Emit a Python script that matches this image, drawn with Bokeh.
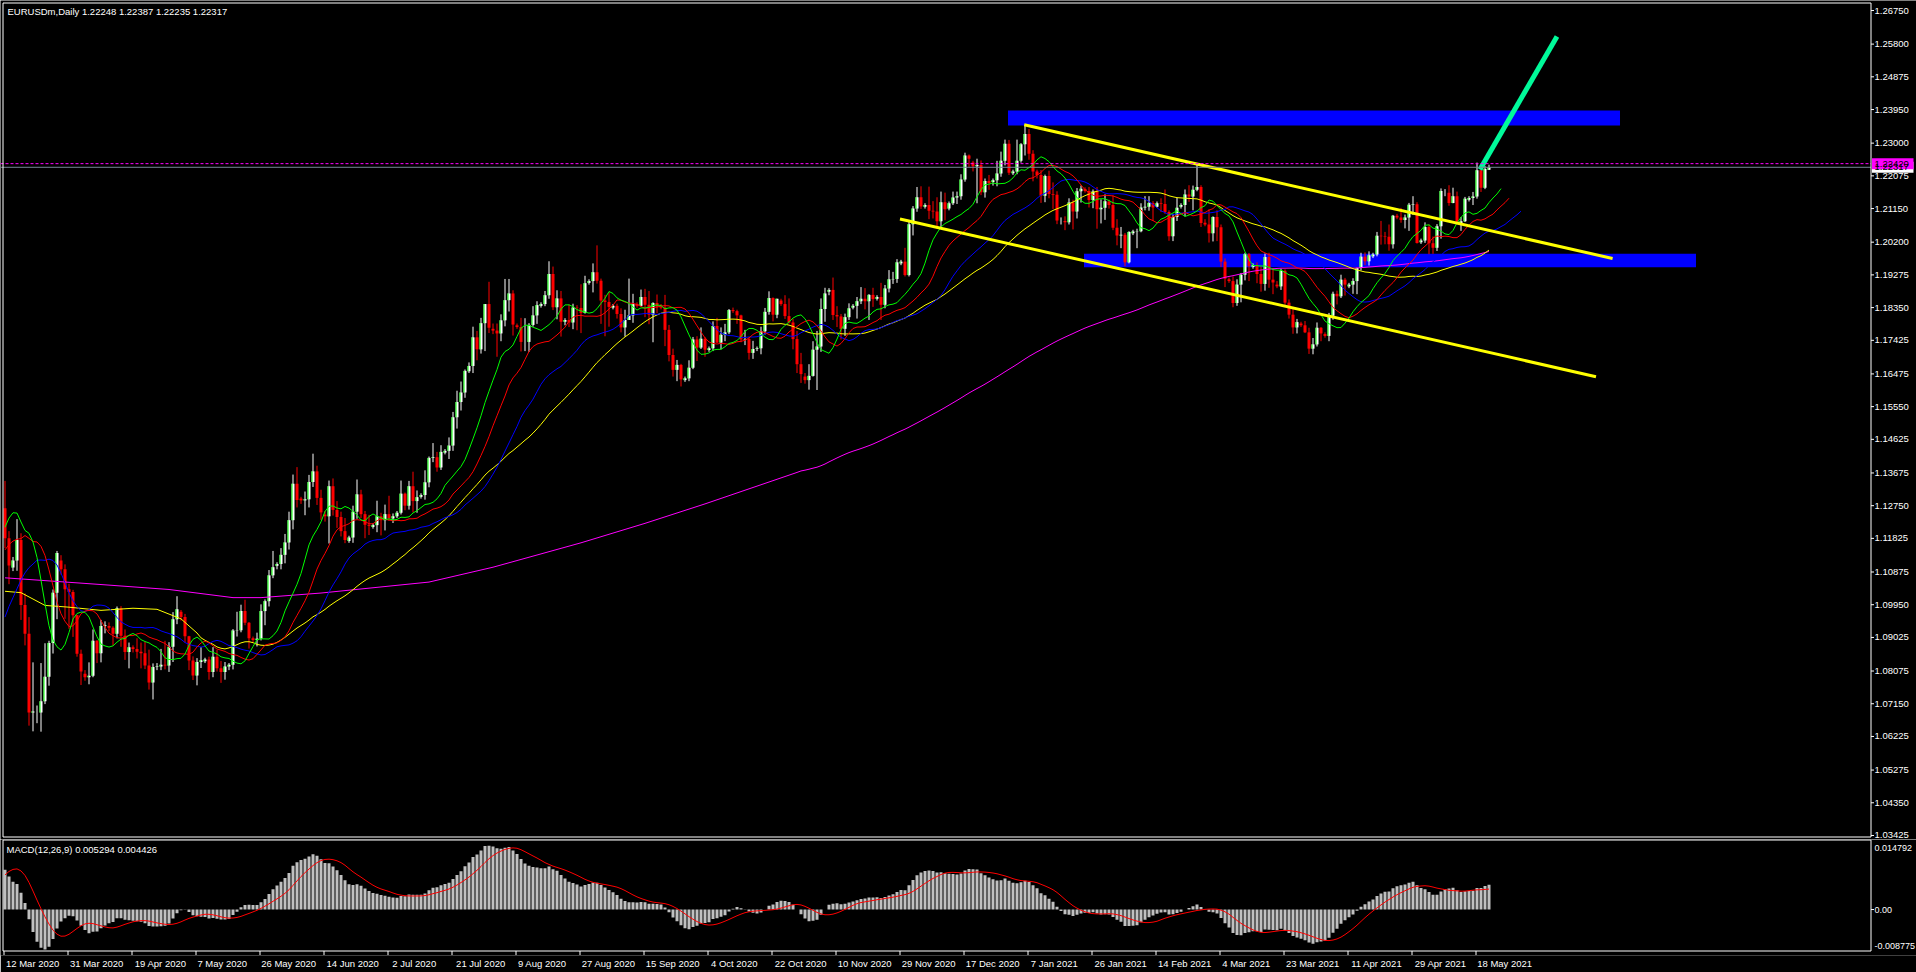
import numpy as np
from bokeh.plotting import figure
from bokeh.models import Range1d, FixedTicker
from bokeh.layouts import column
from bokeh.embed import file_html
from bokeh.resources import INLINE
from bokeh.core.properties import value

# ---------------- daily bars (with Sunday bars), 12 Mar 2020 .. 21 May 2021 ----------------
opens = [
 1.1268,1.1183,
 1.1100,1.1120,1.1178,1.0994,1.0913,1.0690,
 1.0690,1.0690,1.0722,1.0791,1.0887,1.1029,
 1.1120,1.1095,1.1039,1.1031,1.0965,1.0856,
 1.0800,1.0790,1.0794,1.0893,1.0858,1.0935,
 1.0935,1.0930,1.0913,1.0985,1.0907,1.0861,
 1.0875,1.0870,1.0862,1.0858,1.0823,1.0775,
 1.0819,1.0820,1.0825,1.0823,1.0876,1.0954,
 1.0975,1.0960,1.0906,1.0837,1.0795,1.0833,
 1.0835,1.0840,1.0805,1.0848,1.0815,1.0805,
 1.0820,1.0825,1.0922,1.0923,1.0977,1.0944,
 1.0900,1.0895,1.0899,1.0977,1.1005,1.1078,
 1.1105,1.1110,1.1136,1.1171,1.1234,1.1337,
 1.1295,1.1290,1.1293,1.1342,1.1372,1.1297,
 1.1250,1.1245,1.1330,1.1263,1.1243,1.1203,
 1.1175,1.1185,1.1258,1.1307,1.1251,1.1221,
 1.1215,1.1220,1.1245,1.1234,1.1251,1.1239,
 1.1245,1.1255,1.1309,1.1275,1.1330,1.1288,
 1.1300,1.1305,1.1341,1.1410,1.1412,1.1383,
 1.1425,1.1430,1.1445,1.1525,1.1568,1.1595,
 1.1655,1.1670,1.1751,1.1717,1.1791,1.1845,
 1.1775,1.1770,1.1762,1.1799,1.1856,1.1875,
 1.1785,1.1780,1.1738,1.1738,1.1786,1.1813,
 1.1840,1.1845,1.1870,1.1930,1.1836,1.1861,
 1.1795,1.1800,1.1793,1.1835,1.1834,1.1820,
 1.1905,1.1910,1.1935,1.1911,1.1855,1.1851,
 1.1835,1.1840,1.1817,1.1779,1.1800,1.1813,
 1.1845,1.1840,1.1865,1.1843,1.1815,1.1848,
 1.1838,1.1835,1.1772,1.1701,1.1659,1.1673,
 1.1630,1.1635,1.1665,1.1745,1.1722,1.1747,
 1.1715,1.1720,1.1783,1.1736,1.1758,1.1765,
 1.1828,1.1825,1.1813,1.1745,1.1746,1.1707,
 1.1718,1.1720,1.1768,1.1823,1.1862,1.1815,
 1.1855,1.1845,1.1811,1.1793,1.1746,1.1675,
 1.1640,1.1630,1.1642,1.1716,1.1725,1.1831,
 1.1880,1.1885,1.1814,1.1810,1.1775,1.1808,
 1.1835,1.1840,1.1853,1.1860,1.1853,1.1871,
 1.1860,1.1865,1.1843,1.1889,1.1915,1.1916,
 1.1960,1.1965,1.1927,1.2071,1.2115,1.2147,
 1.2120,1.2125,1.2109,1.2107,1.2079,1.2133,
 1.2115,1.2130,1.2146,1.2150,1.2197,1.2265,
 1.2245,1.2235,1.2238,1.2161,1.2193,
 1.2190,1.2195,1.2214,1.2250,1.2298,
 1.2215,1.2220,1.2250,1.2297,1.2326,1.2270,
 1.2220,1.2210,1.2151,1.2207,1.2156,1.2154,
 1.2080,1.2080,1.2076,1.2132,1.2107,1.2164,
 1.2170,1.2165,1.2139,1.2163,1.2113,1.2117,
 1.2135,1.2125,1.2061,1.2039,1.2041,1.1963,
 1.2045,1.2050,1.2051,1.2118,1.2120,1.2131,
 1.2120,1.2130,1.2128,1.2105,1.2037,1.2091,
 1.2120,1.2125,1.2155,1.2149,1.2168,1.2176,
 1.2075,1.2070,1.2045,1.2091,1.2062,1.1965,
 1.1915,1.1910,1.1848,1.1900,1.1928,1.1986,
 1.1950,1.1955,1.1930,1.1902,1.1978,1.1914,
 1.1900,1.1895,1.1939,1.1849,1.1815,1.1779,
 1.1790,1.1785,1.1765,1.1719,1.1731,1.1778,
 1.1760,1.1755,1.1812,1.1874,1.1867,1.1914,
 1.1895,1.1900,1.1910,1.1947,1.1979,1.1966,
 1.1980,1.1985,1.2038,1.2037,1.2035,1.2014,
 1.2095,1.2090,1.2083,1.2090,1.2126,1.2127,
 1.2020,1.2025,1.2063,1.2017,1.2004,1.2065,
 1.2160,1.2160,1.2131,1.2150,1.2073,1.2079,
 1.2140,1.2145,1.2149,1.2223,1.2174,1.2225,
]
highs = [
 1.1345,1.1203,
 1.1130,1.1237,1.1197,1.1027,1.0960,1.0832,
 1.0710,1.0830,1.0886,1.0893,1.1038,1.1147,
 1.1135,1.1109,1.1054,1.1037,1.0966,1.0868,
 1.0810,1.0832,1.0925,1.0895,1.0952,1.0948,
 1.0945,1.0934,1.0990,1.0991,1.0925,1.0888,
 1.0880,1.0900,1.0888,1.0890,1.0868,1.0829,
 1.0830,1.0870,1.0893,1.0889,1.0974,1.1019,
 1.0980,1.0969,1.0907,1.0849,1.0844,1.0875,
 1.0845,1.0848,1.0875,1.0867,1.0836,1.0833,
 1.0830,1.0926,1.0975,1.0995,1.1009,1.0946,
 1.0905,1.0916,1.0996,1.1010,1.1093,1.1147,
 1.1115,1.1155,1.1195,1.1258,1.1363,1.1384,
 1.1300,1.1315,1.1362,1.1422,1.1388,1.1320,
 1.1260,1.1346,1.1352,1.1288,1.1258,1.1240,
 1.1190,1.1275,1.1349,1.1320,1.1260,1.1249,
 1.1225,1.1289,1.1255,1.1278,1.1303,1.1253,
 1.1260,1.1346,1.1312,1.1345,1.1371,1.1318,
 1.1310,1.1375,1.1414,1.1452,1.1427,1.1446,
 1.1435,1.1468,1.1540,1.1600,1.1626,1.1660,
 1.1680,1.1781,1.1769,1.1806,1.1845,1.1908,
 1.1790,1.1790,1.1816,1.1916,1.1916,1.1884,
 1.1790,1.1806,1.1805,1.1791,1.1839,1.1853,
 1.1850,1.1882,1.1966,1.1951,1.1884,1.1882,
 1.1805,1.1844,1.1846,1.1842,1.1901,1.1925,
 1.1915,1.1960,1.2011,1.1917,1.1871,1.1879,
 1.1845,1.1846,1.1833,1.1829,1.1917,1.1874,
 1.1850,1.1886,1.1888,1.1882,1.1850,1.1872,
 1.1845,1.1871,1.1786,1.1719,1.1687,1.1676,
 1.1640,1.1686,1.1752,1.1754,1.1779,1.1752,
 1.1725,1.1796,1.1806,1.1779,1.1789,1.1831,
 1.1835,1.1829,1.1815,1.1772,1.1751,1.1741,
 1.1725,1.1781,1.1834,1.1881,1.1864,1.1860,
 1.1860,1.1870,1.1861,1.1803,1.1769,1.1707,
 1.1650,1.1675,1.1740,1.1769,1.1861,1.1891,
 1.1890,1.1920,1.1839,1.1817,1.1818,1.1847,
 1.1845,1.1865,1.1893,1.1890,1.1873,1.1891,
 1.1870,1.1905,1.1899,1.1941,1.1936,1.1972,
 1.1970,1.2004,1.2077,1.2122,1.2176,1.2178,
 1.2130,1.2177,1.2136,1.2147,1.2163,1.2160,
 1.2135,1.2163,1.2163,1.2212,1.2273,1.2268,
 1.2250,1.2256,1.2251,1.2200,1.2210,
 1.2200,1.2250,1.2276,1.2310,1.2309,
 1.2225,1.2310,1.2300,1.2349,1.2340,1.2280,
 1.2225,1.2224,1.2211,1.2222,1.2189,1.2164,
 1.2090,1.2093,1.2144,1.2140,1.2173,1.2180,
 1.2175,1.2176,1.2169,1.2176,1.2141,1.2155,
 1.2140,1.2152,1.2085,1.2063,1.2046,1.2051,
 1.2055,1.2058,1.2130,1.2150,1.2150,1.2136,
 1.2135,1.2144,1.2169,1.2110,1.2100,1.2145,
 1.2130,1.2169,1.2181,1.2180,1.2243,1.2181,
 1.2085,1.2113,1.2093,1.2110,1.2070,1.1974,
 1.1920,1.1923,1.1915,1.1933,1.1990,1.1989,
 1.1960,1.1963,1.1952,1.1988,1.1990,1.1947,
 1.1910,1.1945,1.1943,1.1858,1.1837,1.1803,
 1.1795,1.1797,1.1778,1.1749,1.1793,1.1780,
 1.1765,1.1820,1.1880,1.1883,1.1928,1.1919,
 1.1905,1.1918,1.1948,1.1990,1.1991,1.1994,
 1.1990,1.2049,1.2080,1.2049,1.2070,1.2097,
 1.2100,1.2117,1.2098,1.2131,1.2150,1.2133,
 1.2030,1.2076,1.2070,1.2036,1.2071,1.2172,
 1.2170,1.2181,1.2174,1.2163,1.2091,1.2148,
 1.2150,1.2162,1.2245,1.2230,1.2235,1.2239,
]
lows = [
 1.1155,1.1053,
 1.1090,1.1091,1.0952,1.0880,1.0653,1.0637,
 1.0660,1.0636,1.0714,1.0766,1.0857,1.0954,
 1.1080,1.0955,1.0927,1.0904,1.0848,1.0768,
 1.0780,1.0770,1.0790,1.0830,1.0832,1.0914,
 1.0920,1.0880,1.0900,1.0876,1.0839,1.0815,
 1.0860,1.0843,1.0815,1.0813,1.0755,1.0727,
 1.0810,1.0810,1.0812,1.0805,1.0833,1.0940,
 1.0950,1.0888,1.0810,1.0782,1.0767,1.0816,
 1.0830,1.0783,1.0790,1.0806,1.0774,1.0783,
 1.0810,1.0812,1.0905,1.0917,1.0937,1.0871,
 1.0890,1.0877,1.0894,1.0937,1.0990,1.1070,
 1.1095,1.1095,1.1112,1.1151,1.1208,1.1270,
 1.1280,1.1248,1.1270,1.1328,1.1277,1.1235,
 1.1230,1.1168,1.1247,1.1212,1.1188,1.1169,
 1.1170,1.1170,1.1238,1.1240,1.1183,1.1192,
 1.1210,1.1200,1.1191,1.1205,1.1232,1.1226,
 1.1240,1.1250,1.1262,1.1264,1.1256,1.1255,
 1.1295,1.1292,1.1327,1.1398,1.1371,1.1376,
 1.1420,1.1407,1.1430,1.1493,1.1544,1.1580,
 1.1650,1.1650,1.1686,1.1705,1.1712,1.1763,
 1.1760,1.1696,1.1740,1.1782,1.1824,1.1756,
 1.1775,1.1711,1.1712,1.1710,1.1781,1.1789,
 1.1835,1.1839,1.1860,1.1828,1.1802,1.1753,
 1.1785,1.1780,1.1774,1.1771,1.1763,1.1818,
 1.1900,1.1878,1.1903,1.1789,1.1754,1.1781,
 1.1830,1.1804,1.1765,1.1753,1.1800,1.1792,
 1.1835,1.1838,1.1808,1.1788,1.1737,1.1819,
 1.1830,1.1726,1.1683,1.1640,1.1627,1.1612,
 1.1625,1.1627,1.1661,1.1684,1.1718,1.1696,
 1.1710,1.1712,1.1735,1.1717,1.1740,1.1760,
 1.1820,1.1789,1.1737,1.1729,1.1688,1.1690,
 1.1712,1.1703,1.1759,1.1815,1.1796,1.1805,
 1.1840,1.1803,1.1790,1.1717,1.1650,1.1622,
 1.1620,1.1603,1.1640,1.1602,1.1710,1.1795,
 1.1870,1.1800,1.1780,1.1745,1.1755,1.1800,
 1.1830,1.1804,1.1845,1.1830,1.1800,1.1837,
 1.1855,1.1800,1.1833,1.1878,1.1902,1.1905,
 1.1955,1.1923,1.1923,1.2039,1.2106,1.2114,
 1.2115,1.2085,1.2087,1.2059,1.2058,1.2082,
 1.2110,1.2125,1.2128,1.2140,1.2191,1.2233,
 1.2220,1.2130,1.2153,1.2146,1.2168,
 1.2180,1.2178,1.2205,1.2237,1.2210,
 1.2210,1.2212,1.2245,1.2265,1.2253,1.2192,
 1.2200,1.2131,1.2133,1.2144,1.2114,1.2071,
 1.2070,1.2054,1.2070,1.2056,1.2087,1.2132,
 1.2160,1.2118,1.2116,1.2058,1.2073,1.2083,
 1.2115,1.2054,1.2011,1.2003,1.1952,1.1960,
 1.2040,1.2003,1.2048,1.2110,1.2109,1.2080,
 1.2118,1.2105,1.2100,1.2024,1.2023,1.2080,
 1.2115,1.2093,1.2134,1.2110,1.2164,1.2063,
 1.2065,1.2019,1.2022,1.2023,1.1950,1.1893,
 1.1905,1.1836,1.1840,1.1850,1.1912,1.1910,
 1.1945,1.1904,1.1880,1.1883,1.1891,1.1873,
 1.1890,1.1885,1.1843,1.1804,1.1761,1.1762,
 1.1780,1.1763,1.1704,1.1703,1.1725,1.1740,
 1.1750,1.1740,1.1801,1.1844,1.1862,1.1869,
 1.1890,1.1874,1.1873,1.1940,1.1955,1.1954,
 1.1975,1.1980,1.2013,1.2014,1.1996,1.2002,
 1.2085,1.2075,1.2059,1.2052,1.2097,1.2016,
 1.2015,1.2018,1.1986,1.1987,1.1995,1.2030,
 1.2150,1.2123,1.2130,1.2074,1.2052,1.2077,
 1.2135,1.2125,1.2143,1.2162,1.2170,1.2224,
]
closes = [
 1.1183,1.1106,
 1.1120,1.1178,1.0994,1.0913,1.0690,1.0693,
 1.0690,1.0722,1.0791,1.0887,1.1029,1.1141,
 1.1095,1.1039,1.1031,1.0965,1.0856,1.0806,
 1.0790,1.0794,1.0893,1.0858,1.0935,1.0937,
 1.0930,1.0913,1.0985,1.0907,1.0861,1.0875,
 1.0870,1.0862,1.0858,1.0823,1.0775,1.0819,
 1.0820,1.0825,1.0823,1.0876,1.0954,1.0982,
 1.0960,1.0906,1.0837,1.0795,1.0833,1.0838,
 1.0840,1.0805,1.0848,1.0815,1.0805,1.0820,
 1.0825,1.0922,1.0923,1.0977,1.0944,1.0900,
 1.0895,1.0899,1.0977,1.1005,1.1078,1.1101,
 1.1110,1.1136,1.1171,1.1234,1.1337,1.1291,
 1.1290,1.1293,1.1342,1.1372,1.1297,1.1256,
 1.1245,1.1330,1.1263,1.1243,1.1203,1.1178,
 1.1185,1.1258,1.1307,1.1251,1.1221,1.1218,
 1.1220,1.1245,1.1234,1.1251,1.1239,1.1245,
 1.1255,1.1309,1.1275,1.1330,1.1288,1.1299,
 1.1305,1.1341,1.1410,1.1412,1.1383,1.1427,
 1.1430,1.1445,1.1525,1.1568,1.1595,1.1656,
 1.1670,1.1751,1.1717,1.1791,1.1845,1.1778,
 1.1770,1.1762,1.1799,1.1856,1.1875,1.1787,
 1.1780,1.1738,1.1738,1.1786,1.1813,1.1842,
 1.1845,1.1870,1.1930,1.1836,1.1861,1.1795,
 1.1800,1.1793,1.1835,1.1834,1.1820,1.1904,
 1.1910,1.1935,1.1911,1.1855,1.1851,1.1837,
 1.1840,1.1817,1.1779,1.1800,1.1813,1.1845,
 1.1840,1.1865,1.1843,1.1815,1.1848,1.1838,
 1.1835,1.1772,1.1701,1.1659,1.1673,1.1632,
 1.1635,1.1665,1.1745,1.1722,1.1747,1.1716,
 1.1720,1.1783,1.1736,1.1758,1.1765,1.1828,
 1.1825,1.1813,1.1745,1.1746,1.1707,1.1718,
 1.1720,1.1768,1.1823,1.1862,1.1815,1.1860,
 1.1845,1.1811,1.1793,1.1746,1.1675,1.1647,
 1.1630,1.1642,1.1716,1.1725,1.1831,1.1875,
 1.1885,1.1814,1.1810,1.1775,1.1808,1.1833,
 1.1840,1.1853,1.1860,1.1853,1.1871,1.1859,
 1.1865,1.1843,1.1889,1.1915,1.1916,1.1963,
 1.1965,1.1927,1.2071,1.2115,1.2147,1.2121,
 1.2125,1.2109,1.2107,1.2079,1.2133,1.2113,
 1.2130,1.2146,1.2150,1.2197,1.2265,1.2256,
 1.2235,1.2238,1.2161,1.2193,1.2187,
 1.2195,1.2214,1.2250,1.2298,1.2216,
 1.2220,1.2250,1.2297,1.2326,1.2270,1.2220,
 1.2210,1.2151,1.2207,1.2156,1.2154,1.2081,
 1.2080,1.2076,1.2132,1.2107,1.2164,1.2171,
 1.2165,1.2139,1.2163,1.2113,1.2117,1.2136,
 1.2125,1.2061,1.2039,1.2041,1.1963,1.2049,
 1.2050,1.2051,1.2118,1.2120,1.2131,1.2118,
 1.2130,1.2128,1.2105,1.2037,1.2091,1.2117,
 1.2125,1.2155,1.2149,1.2168,1.2176,1.2074,
 1.2070,1.2045,1.2091,1.2062,1.1965,1.1917,
 1.1910,1.1848,1.1900,1.1928,1.1986,1.1952,
 1.1955,1.1930,1.1902,1.1978,1.1914,1.1906,
 1.1895,1.1939,1.1849,1.1815,1.1779,1.1794,
 1.1785,1.1765,1.1719,1.1731,1.1778,1.1762,
 1.1755,1.1812,1.1874,1.1867,1.1914,1.1900,
 1.1900,1.1910,1.1947,1.1979,1.1966,1.1983,
 1.1985,1.2038,1.2037,1.2035,1.2014,1.2095,
 1.2090,1.2083,1.2090,1.2126,1.2127,1.2018,
 1.2025,1.2063,1.2017,1.2004,1.2065,1.2165,
 1.2160,1.2131,1.2150,1.2073,1.2079,1.2143,
 1.2145,1.2149,1.2223,1.2174,1.2227,1.2232,
]

# x-axis labels (every 16 bars)
date_labels = ["12 Mar 2020", "31 Mar 2020", "19 Apr 2020", "7 May 2020", "26 May 2020",
               "14 Jun 2020", "2 Jul 2020", "21 Jul 2020", "9 Aug 2020", "27 Aug 2020",
               "15 Sep 2020", "4 Oct 2020", "22 Oct 2020", "10 Nov 2020", "29 Nov 2020",
               "17 Dec 2020", "7 Jan 2021", "26 Jan 2021", "14 Feb 2021", "4 Mar 2021",
               "23 Mar 2021", "11 Apr 2021", "29 Apr 2021", "18 May 2021"]
date_bars = [0, 16, 32, 48, 64, 80, 96, 112, 128, 144, 160, 176, 192, 208, 224,
             240, 256, 272, 288, 304, 320, 336, 352, 368]

price_ticks = [1.26750, 1.25800, 1.24875, 1.23950, 1.23000, 1.22075, 1.21150, 1.20200,
               1.19275, 1.18350, 1.17425, 1.16475, 1.15550, 1.14625, 1.13675, 1.12750,
               1.11825, 1.10875, 1.09950, 1.09025, 1.08075, 1.07150, 1.06225, 1.05275,
               1.04350, 1.03425]
macd_scale_labels = ["0.014792", "0.00", "-0.008775"]

# indicator values visible before enough history exists
lips_head = [1.1214, 1.1240, 1.1255]
teeth_head = [1.1150, 1.1165, 1.1175, 1.1180, 1.1182]
jaw_head = [1.0960, 1.0990, 1.1015, 1.1040, 1.1065, 1.1085, 1.1100, 1.1110]
sma50_head_x = [0, 4, 10, 16, 24, 32, 38, 44, 48]
sma50_head_y = [1.1033, 1.1029, 1.0993, 1.0988, 1.0979, 1.0985, 1.0982, 1.0955, 1.0915]
sma200_head_x = [0, 24, 41, 57, 64, 79, 106, 122, 144, 160, 175, 190, 198]
sma200_head_y = [1.1071, 1.1052, 1.1038, 1.1015, 1.1015, 1.1028, 1.1059, 1.1101, 1.1170,
                 1.1225, 1.1280, 1.1338, 1.1369]
ema12_seed, ema26_seed = 1.1215, 1.1120
macd_head = [0.0005, 0.0020, 0.0045, 0.0075, 0.0100, 0.0115, 0.0118, 0.0105]

# drawn objects
zone_left = [250.75, 269.75]
zone_right = [403.75, 422.75]
zone_top = [1.23923, 1.19871]
zone_bottom = [1.23499, 1.19493]
trend_x0 = [254.8, 223.75]
trend_y0 = [1.23518, 1.20855]
trend_x1 = [401.9, 397.75]
trend_y1 = [1.19738, 1.16397]
arrow_x0, arrow_y0, arrow_x1, arrow_y1 = [368.75], [1.22255], [388.0], [1.26015]
tag_prices = [1.22317, 1.22420]          # bid line, horizontal line
tag_texts = ["1.22317", "1.22420"]
tag_colors = ["white", "#FF00FF"]

title_text = "EURUSDm,Daily  1.22248 1.22387 1.22235 1.22317"
macd_title = "MACD(12,26,9) 0.005294 0.004426"

# ---------------- computations ----------------
o = np.array(opens); h = np.array(highs); l = np.array(lows); c = np.array(closes)
n = len(c)
x = np.arange(n)
med = (h + l) / 2.0


def smma_shifted(period, head):
    shift = len(head)
    s = head[-1]
    out = []
    for v in med:
        s = (s * (period - 1) + v) / period
        out.append(s)
    xs = list(range(shift)) + [i + shift for i in range(n)]
    return xs, list(head) + out


def sma(arr, k):
    cs = np.cumsum(np.insert(arr, 0, 0.0))
    res = np.full(len(arr), np.nan)
    res[k - 1:] = (cs[k:] - cs[:-k]) / k
    return res


lips_x, lips_y = smma_shifted(5, lips_head)
teeth_x, teeth_y = smma_shifted(8, teeth_head)
jaw_x, jaw_y = smma_shifted(13, jaw_head)
s50 = sma(c, 50)
s200 = sma(c, 200)
y50_x = sma50_head_x + list(range(49, n))
y50_y = sma50_head_y + list(s50[49:])
m200_x = sma200_head_x + list(range(199, n))
m200_y = sma200_head_y + list(s200[199:])

e12, e26 = ema12_seed, ema26_seed
macd = []
for v in c:
    e12 += 2.0 / 13 * (v - e12)
    e26 += 2.0 / 27 * (v - e26)
    macd.append(e12 - e26)
full = macd_head + macd
signal = [float(np.mean(full[i:i + 9])) for i in range(n)]

# ---------------- screen layout helpers ----------------
FONT = "Liberation Sans"
FS = "9.5px"
W = 1916
H_MAIN = 839
H_MACD = 133
PPB = 4.0                        # pixels per bar


def bx(px):                      # page x -> bar coordinate
    return (px - 4.5) / PPB


PX = 0.00028273                  # price per pixel


def py(pyy):                     # page y -> price
    return 1.26750 - (pyy - 10.0) * PX


X0, X1 = bx(0), bx(W)
SCALE_X = bx(1870.5)
TICK_X = bx(1873.5)
LAB_X = bx(1874)
LEFT_X = bx(2.5)
YMAX, YMIN = py(0), py(H_MAIN)

xr = Range1d(X0, X1)

p = figure(width=W, height=H_MAIN, x_range=xr, y_range=Range1d(YMIN, YMAX),
           output_backend="svg", toolbar_location=None,
           x_axis_location=None, y_axis_location=None,
           background_fill_color="black", border_fill_color="black",
           outline_line_color=None,
           min_border_left=0, min_border_right=0, min_border_top=0, min_border_bottom=0)
p.grid.visible = False

# zones (background)
p.quad(left=zone_left, right=zone_right, top=zone_top, bottom=zone_bottom,
       fill_color="#0000FF", line_color=None)

# candles
bull = c >= o
bear = ~bull
top = np.maximum(o, c)
bot = np.minimum(o, c)
p.segment(x[bull], l[bull], x[bull], h[bull], line_color="white", line_width=1)
p.segment(x[bear], l[bear], x[bear], h[bear], line_color="#FF0000", line_width=1)
p.vbar(x=x[bull], top=top[bull], bottom=bot[bull], width=0.75,
       fill_color="white", line_color=None)
p.vbar(x=x[bear], top=top[bear], bottom=bot[bear], width=0.75,
       fill_color="#FF0000", line_color=None)
p.segment(x[bull] - 0.25, bot[bull], x[bull] - 0.25, top[bull], line_color="#00FF00", line_width=1)

# moving averages
p.line(m200_x, m200_y, line_color="#FF00FF", line_width=1)
p.line(y50_x, y50_y, line_color="#FFFF00", line_width=1)
p.line(jaw_x, jaw_y, line_color="#0000FF", line_width=1)
p.line(teeth_x, teeth_y, line_color="#FF0000", line_width=1)
p.line(lips_x, lips_y, line_color="#00FF00", line_width=1)

# trend lines and arrow
p.segment(trend_x0, trend_y0, trend_x1, trend_y1, line_color="#FFFF00", line_width=3)
p.segment(arrow_x0, arrow_y0, arrow_x1, arrow_y1, line_color="#00FA9A", line_width=5)

# bid line and horizontal line
p.segment([X0], [tag_prices[0]], [SCALE_X], [tag_prices[0]], line_color="#778899", line_width=1)
p.segment([X0], [tag_prices[1]], [SCALE_X], [tag_prices[1]], line_color="#FF00FF",
          line_width=1, line_dash="3 2")

# chart frame lines and price scale
p.segment([LEFT_X, LEFT_X, LEFT_X, SCALE_X],
          [py(836.5), py(2.5), py(836.5), py(836.5)],
          [LEFT_X, SCALE_X, SCALE_X, SCALE_X],
          [py(2.5), py(2.5), py(836.5), py(2.5)],
          line_color="white", line_width=1)
p.segment([SCALE_X] * len(price_ticks), price_ticks, [TICK_X] * len(price_ticks), price_ticks,
          line_color="white", line_width=1)
p.text(x=[LAB_X] * len(price_ticks), y=price_ticks, text=["%.5f" % v for v in price_ticks],
       text_font=value(FONT), text_font_size=value(FS), text_color="white",
       text_align="left", text_baseline="middle")

# price tags on the scale
p.quad(left=[SCALE_X + 1.0 / PPB] * 2, right=[bx(1913)] * 2,
       top=[v + 5.5 * PX for v in tag_prices], bottom=[v - 5.5 * PX for v in tag_prices],
       fill_color=tag_colors, line_color=None)
p.text(x=[LAB_X] * 2, y=tag_prices, text=tag_texts, text_font=value(FONT),
       text_font_size=value(FS), text_color="black", text_align="left", text_baseline="middle")

p.text(x=[bx(7)], y=[py(10.5)], text=[title_text], text_font=value(FONT),
       text_font_size=value(FS), text_color="white", text_align="left", text_baseline="middle")

# ---------------- MACD ----------------
MMAX, MMIN = 0.014792, -0.008775
MK = (MMAX - MMIN) / 110.0       # value per pixel


def mpy(pyy):                    # page y -> MACD value
    return MMAX - (pyy - 840.0) * MK


M_FRAME_BOTTOM = 955
M_TOP, M_BOT = mpy(H_MAIN), mpy(M_FRAME_BOTTOM)
m = figure(width=W, height=H_MACD, x_range=xr, y_range=Range1d(M_BOT, M_TOP),
           output_backend="svg", toolbar_location=None,
           x_axis_location="below", y_axis_location=None,
           background_fill_color="black", border_fill_color="black",
           outline_line_color=None,
           min_border_left=0, min_border_right=0, min_border_top=0,
           min_border_bottom=H_MAIN + H_MACD - M_FRAME_BOTTOM)
m.grid.visible = False
mx = m.xaxis[0]
shifted = [b + (1.0 + len(t) * 4.85 / 2.0) / PPB for b, t in zip(date_bars, date_labels)]
mx.ticker = FixedTicker(ticks=shifted)
mx.major_label_overrides = {s: t for s, t in zip(shifted, date_labels)}
mx.axis_line_color = None
mx.major_tick_line_color = None
mx.minor_tick_line_color = None
mx.major_label_text_color = "white"
mx.major_label_text_font = FONT
mx.major_label_text_font_size = FS
mx.major_label_standoff = -4

m.vbar(x=x, top=macd, bottom=0, width=0.75, fill_color="#C0C0C0", line_color=None)
m.line(x, signal, line_color="#FF0000", line_width=1)

# sub-window frame, its scale and the small date ticks
m.segment([LEFT_X, LEFT_X, LEFT_X, SCALE_X],
          [mpy(950.5), mpy(839.5), mpy(950.5), mpy(950.5)],
          [LEFT_X, SCALE_X, SCALE_X, SCALE_X],
          [mpy(839.5), mpy(839.5), mpy(950.5), mpy(839.5)],
          line_color="white", line_width=1)
m.segment([SCALE_X], [0.0], [TICK_X], [0.0], line_color="white", line_width=1)
m.segment([b - 0.25 for b in date_bars], [mpy(950.5)] * len(date_bars),
          [b - 0.25 for b in date_bars], [mpy(954.5)] * len(date_bars),
          line_color="white", line_width=1)
macd_label_y = [mpy(847), 0.0, mpy(945)]
m.text(x=[LAB_X] * 3, y=macd_label_y, text=macd_scale_labels, text_font=value(FONT),
       text_font_size=value("9px"), text_color="white", text_align="left",
       text_baseline="middle")
m.text(x=[bx(6)], y=[mpy(849)], text=[macd_title], text_font=value(FONT),
       text_font_size=value(FS), text_color="white", text_align="left", text_baseline="middle")

layout = column(p, m, spacing=0)
open("out.html", "w").write(file_html(layout, INLINE))
